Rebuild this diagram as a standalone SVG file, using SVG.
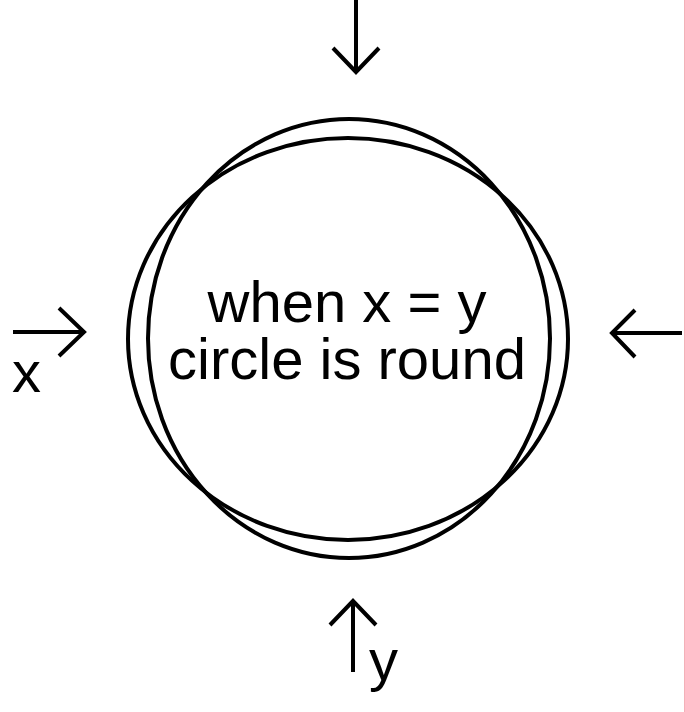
<svg xmlns="http://www.w3.org/2000/svg" width="685" height="712" viewBox="0 0 685 712">
<style>
.shape{fill:none;stroke:#000;stroke-width:4}
.arr{fill:none;stroke:#000;stroke-width:4;stroke-linecap:butt;stroke-linejoin:miter}
.t{font-family:"Liberation Sans",Arial,sans-serif;font-size:58px;fill:#000}
</style>
<rect width="685" height="712" fill="#fff"/>
<line x1="684.5" y1="0" x2="684.5" y2="712" stroke="#f4b0b8" stroke-width="1"/>
<g id="circle">
<ellipse class="shape" cx="349" cy="338.5" rx="201" ry="219.5"/>
<ellipse class="shape" cx="348" cy="339" rx="220" ry="201"/>
<text class="t" x="347" y="322" text-anchor="middle">when x = y</text>
<text class="t" x="347" y="379" text-anchor="middle">circle is round</text>
</g>
<g id="connectors">
<path class="arr" d="M356 0 V72 M333 48 L356 72 L379 48"/>
<path class="arr" d="M353 672 V601 M330 625 L353 601 L376 625"/>
<path class="arr" d="M13 332 H84 M59 308 L84 332 L59 356"/>
<path class="arr" d="M682 333 H612 M635 310 L612 333 L635 357"/>
</g>
<g id="labels">
<text class="t" x="12" y="392">x</text>
<text class="t" x="369" y="680">y</text>
</g>
</svg>
